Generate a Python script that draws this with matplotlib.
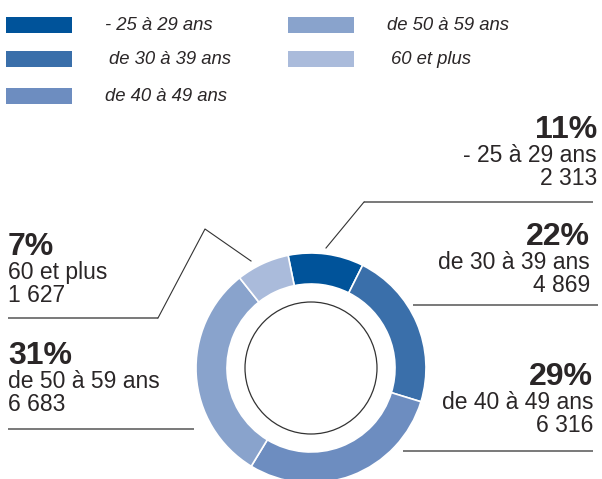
import matplotlib.pyplot as plt
from matplotlib.patches import Circle, Rectangle

# data
categories = ["- 25 à 29 ans", "de 30 à 39 ans", "de 40 à 49 ans", "de 50 à 59 ans", "60 et plus"]
values = [2313, 4869, 6316, 6683, 1627]
colors = ["#00539A", "#3A6FAA", "#6D8DC0", "#89A3CC", "#AABBDB"]

total = sum(values)
W, H = 602, 479

plt.rcParams['font.family'] = ['Liberation Sans', 'DejaVu Sans']
fig = plt.figure(figsize=(W / 100, H / 100), dpi=100)
ax = fig.add_axes([0, 0, 1, 1])

def py(y):
    # pixel row (from top) -> data y
    return H - y

# donut
cx, cy, r = 311, py(368), 115
ax.pie(values, colors=colors, startangle=101.5, counterclock=False,
       center=(cx, cy), radius=r, frame=True,
       wedgeprops=dict(width=31, edgecolor='white', linewidth=1.2))
ax.set_xlim(0, W)
ax.set_ylim(0, H)
ax.set_aspect('equal')
ax.axis('off')
ax.add_patch(Circle((cx, cy), 66, fill=False, edgecolor='#333333', linewidth=0.9))

txt = '#2a2627'

# legend
for i, (lab, col) in enumerate(zip(categories, colors)):
    row, c = i % 3, i // 3
    x0 = 6 + c * 282
    yc = [25, 59, 96][row]
    ax.add_patch(Rectangle((x0, py(yc + 8)), 66, 16, facecolor=col, edgecolor='none'))
    ax.text(x0 + 99 + (4 if row == 1 else 0), py(yc), lab, fontsize=13.3, style='italic',
            color=txt, va='center', ha='left')

# callout layout: (x, percent baseline y, ha)
layout = [(597, 138, 'right'), (590, 245, 'right'), (593, 385, 'right'),
          (8, 364, 'left'), (8, 255, 'left')]
for (x, yb, ha), lab, v in zip(layout, categories, values):
    pct = f"{round(100 * v / total)}%"
    num = f"{v:,}".replace(",", " ")
    ax.text(x, py(yb), pct, fontsize=23, fontweight='bold', color=txt, ha=ha, va='baseline')
    ax.text(x, py(yb + 24), lab, fontsize=16.5, color=txt, ha=ha, va='baseline')
    ax.text(x, py(yb + 47), num, fontsize=16.5, color=txt, ha=ha, va='baseline')

# leader lines
lk = dict(color='#555555', linewidth=1.1, solid_capstyle='butt')
dk = dict(color='#333333', linewidth=0.8)
ax.plot([593, 364], [py(202), py(202)], **lk)
ax.plot([364, 326], [py(202), py(248)], **dk)
ax.plot([413, 598], [py(305), py(305)], **lk)
ax.plot([403, 593], [py(451), py(451)], **lk)
ax.plot([8, 158], [py(318), py(318)], **lk)
ax.plot([158, 205, 251], [py(318), py(229), py(261)], **dk)
ax.plot([8, 194], [py(429), py(429)], **lk)

fig.savefig('out.png', dpi=100)
